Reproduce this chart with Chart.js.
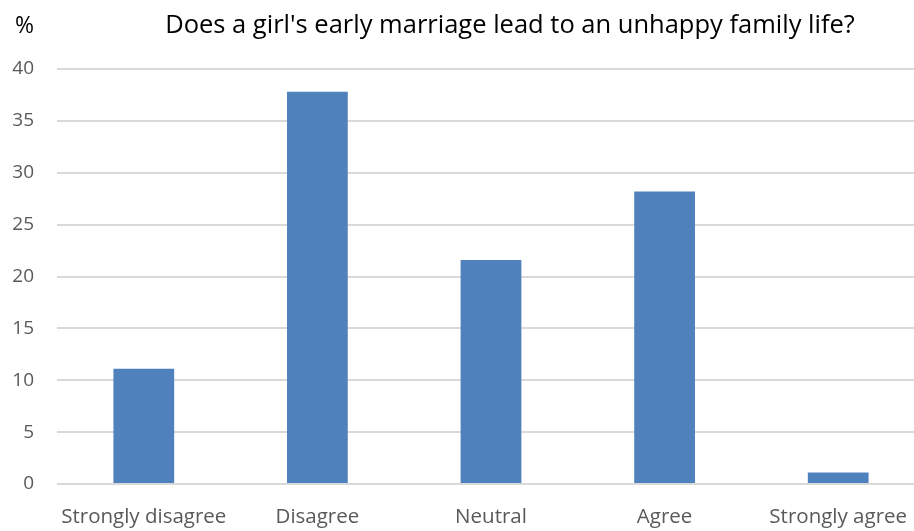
<!DOCTYPE html>
<html>
<head>
<meta charset="utf-8">
<script src="https://cdn.jsdelivr.net/npm/chart.js@4"></script>
<style>
  html, body { margin: 0; padding: 0; background: #fff; overflow: hidden; }
</style>
</head>
<body>
<canvas id="chart" width="925" height="531"></canvas>
<script>
const categories = ['Strongly disagree', 'Disagree', 'Neutral', 'Agree', 'Strongly agree'];
const percentValues = [11.1, 37.8, 21.6, 28.2, 1.1];
const yTicks = [0, 5, 10, 15, 20, 25, 30, 35, 40];
const chartTitle = "Does a girl's early marriage lead to an unhappy family life?";
const unitLabel = '%';

const fontFamily = "'Open Sans', 'Noto Sans', sans-serif";

// Draws the title and the unit label at the top
const headerText = {
  id: 'headerText',
  afterDraw(chart) {
    const ctx = chart.ctx;
    ctx.save();
    ctx.fillStyle = '#000000';
    ctx.textBaseline = 'middle';
    ctx.font = '25.5px ' + fontFamily;
    ctx.textAlign = 'center';
    ctx.fillText(chartTitle, 510, 26);
    ctx.font = '23px ' + fontFamily;
    ctx.textAlign = 'left';
    ctx.fillText(unitLabel, 15, 26);
    ctx.restore();
  }
};

new Chart(document.getElementById('chart').getContext('2d'), {
  type: 'bar',
  data: {
    labels: categories,
    datasets: [{
      data: percentValues,
      backgroundColor: '#4f81bd',
      borderWidth: 0,
      barPercentage: 0.35,
      categoryPercentage: 1
    }]
  },
  options: {
    responsive: false,
    animation: false,
    layout: { padding: { top: 69, right: 0, left: 0, bottom: 0 } },
    plugins: {
      legend: { display: false },
      tooltip: { enabled: false }
    },
    scales: {
      x: {
        grid: { display: false },
        border: { color: '#d9d9d9', width: 1 },
        ticks: {
          color: '#595959',
          padding: 13,
          maxRotation: 0,
          font: { size: 20.5, family: fontFamily }
        },
        afterFit: (axis) => { axis.height = 47; }
      },
      y: {
        min: 0,
        max: 40,
        afterBuildTicks: (axis) => { axis.ticks = yTicks.map(v => ({ value: v })); },
        grid: { color: '#d9d9d9', lineWidth: 2, drawTicks: false },
        border: { display: false },
        ticks: {
          color: '#595959',
          padding: 23,
          font: { size: 19, family: fontFamily }
        },
        afterFit: (axis) => { axis.width = 57; }
      }
    }
  },
  plugins: [headerText]
});
</script>
</body>
</html>
